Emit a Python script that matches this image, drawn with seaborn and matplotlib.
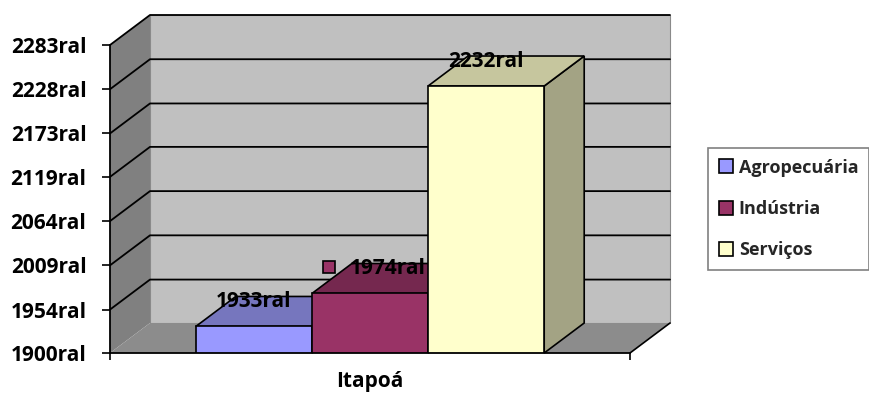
import numpy as np
import pandas as pd
import matplotlib
matplotlib.use('Agg')
import matplotlib.pyplot as plt
import seaborn as sns
from matplotlib.patches import Polygon, Patch
import matplotlib.transforms as mtransforms

# dados do grafico
municipio = ['Itapoá']
setores = ['Agropecuária', 'Indústria', 'Serviços']
valores = [1933, 1974, 2232]
rotulos = ['1933ral', '1974ral', '2232ral']
y_ticks = [1900, 1954, 2009, 2064, 2119, 2173, 2228, 2283]
y_labels = ['1900ral', '1954ral', '2009ral', '2064ral', '2119ral', '2173ral', '2228ral', '2283ral']

# cores (frente, topo e lateral das barras)
cores_frente = ['#9999FF', '#993366', '#FFFFCC']
cores_topo = ['#7676BE', '#75284F', '#C6C69E']
cores_lado = ['#6B6BA8', '#5E1F40', '#A3A384']

df = pd.DataFrame({'municipio': municipio * len(setores), 'setor': setores, 'valor': valores})

sns.set_theme(style='white')
plt.rcParams['font.family'] = ['Open Sans', 'DejaVu Sans']

W, H = 870, 394
fig = plt.figure(figsize=(W / 100, H / 100), dpi=100)
ax = fig.add_axes([110 / W, 1 - 353 / H, 520 / W, 308 / H])

ymin, ymax = y_ticks[0], y_ticks[-1]
x0, x1 = -0.5, 0.5

# barras (faces da frente)
sns.barplot(data=df, x='municipio', y='valor', hue='setor', palette=cores_frente,
            saturation=1, width=0.67, edgecolor='black', linewidth=1.2,
            legend=False, ax=ax, zorder=3)
bars = sorted(ax.patches, key=lambda p: p.get_x())
ax.set_xlim(x0, x1)
ax.set_ylim(ymin, ymax)

# profundidade do efeito 3D (40 px para a direita, 30 px para cima)
dx = 40 / 520 * (x1 - x0)
dy = 30 / 308 * (ymax - ymin)

# paredes e piso
ax.add_patch(Polygon([(x0, ymin), (x0, ymax), (x0 + dx, ymax + dy), (x0 + dx, ymin + dy)],
                     fc='#808080', ec='none', clip_on=False, zorder=0))
ax.add_patch(Polygon([(x0 + dx, ymin + dy), (x0 + dx, ymax + dy), (x1 + dx, ymax + dy), (x1 + dx, ymin + dy)],
                     fc='#C0C0C0', ec='#8a8a8a', lw=0.8, clip_on=False, zorder=0))
ax.add_patch(Polygon([(x0, ymin), (x1, ymin), (x1 + dx, ymin + dy), (x0 + dx, ymin + dy)],
                     fc='#8C8C8C', ec='none', clip_on=False, zorder=0.5))
ax.plot([x1, x1 + dx], [ymin, ymin + dy], color='black', lw=1.2, clip_on=False, zorder=0.6)

# linhas de grade nas paredes
for t in y_ticks[1:]:
    ax.plot([x0, x0 + dx, x1 + dx], [t, t + dy, t + dy], color='black', lw=1.3,
            clip_on=False, zorder=1)

# topo e lateral das barras
for bar, ct, cl in zip(bars, cores_topo, cores_lado):
    bx, w, top = bar.get_x(), bar.get_width(), bar.get_height()
    ax.add_patch(Polygon([(bx + w, ymin), (bx + w, top), (bx + w + dx, top + dy), (bx + w + dx, ymin + dy)],
                         fc=cl, ec='black', lw=1.2, clip_on=False, zorder=2))
    ax.add_patch(Polygon([(bx, top), (bx + w, top), (bx + w + dx, top + dy), (bx + dx, top + dy)],
                         fc=ct, ec='black', lw=1.2, clip_on=False, zorder=2))

# rotulos de dados
for i, (bar, rot) in enumerate(zip(bars, rotulos)):
    cx = bar.get_x() + bar.get_width() / 2
    top = bar.get_height()
    shift = 18 if i == 1 else 0
    ax.annotate(rot, (cx, top + dy), xytext=(shift, -5), textcoords='offset pixels',
                ha='center', va='center', fontsize=15, fontweight='bold',
                color='black', annotation_clip=False, zorder=6)
    if i == 1:
        trans = mtransforms.offset_copy(ax.transData, fig=fig, x=-41, y=-4, units='dots')
        ax.plot([cx], [top + dy], marker='s', ms=8.5, mfc=cores_frente[i], mec='black',
                mew=1.2, transform=trans, clip_on=False, zorder=6)

# eixos
ax.set_yticks(y_ticks)
ax.set_yticklabels(y_labels, fontsize=15, fontweight='bold', color='black')
ax.tick_params(axis='y', left=True, length=6, width=1.2, color='black', direction='out', pad=11)
ax.set_xticks([0])
ax.set_xticklabels(municipio, fontsize=15, fontweight='bold', color='black')
ax.set_xticks([x0, x1], minor=True)
ax.tick_params(axis='x', which='major', bottom=False, length=0, pad=13)
ax.tick_params(axis='x', which='minor', bottom=True, length=5, width=1.2, color='black', direction='out')
ax.set_xlabel('')
ax.set_ylabel('')
for s in ['top', 'right']:
    ax.spines[s].set_visible(False)
for s in ['left', 'bottom']:
    ax.spines[s].set_color('black')
    ax.spines[s].set_linewidth(1.3)
    ax.spines[s].set_zorder(4)
ax.set_facecolor('none')

# legenda
handles = [Patch(fc=c, ec='black', lw=1.2) for c in cores_frente]
leg = fig.legend(handles, setores, loc='center left', bbox_to_anchor=(708 / W, 1 - 209 / H),
                 frameon=True, fancybox=False, edgecolor='#808080', framealpha=1,
                 prop={'size': 13, 'weight': 'bold'}, handlelength=0.8, handleheight=0.8,
                 handletextpad=0.3, labelspacing=1.3, borderpad=0.6, borderaxespad=0)
leg.get_frame().set_linewidth(1.2)

fig.savefig('out.png', dpi=100)
